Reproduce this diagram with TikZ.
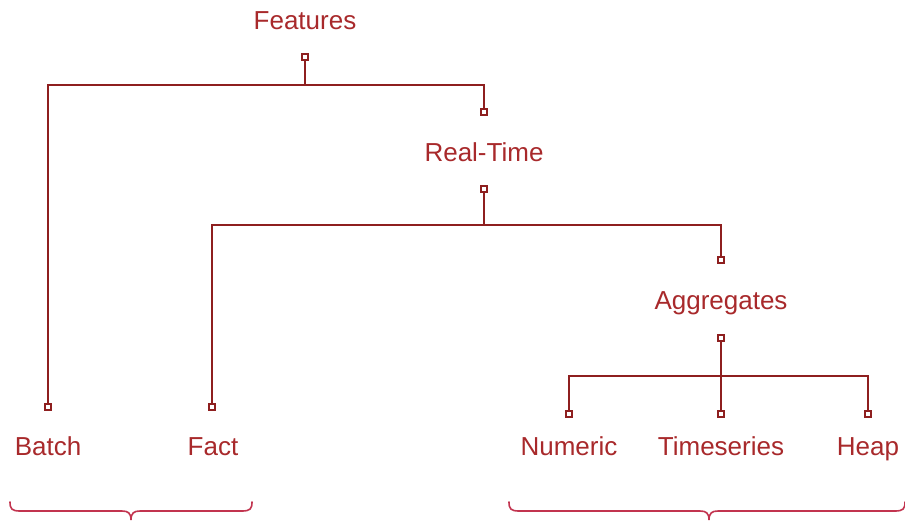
\documentclass[tikz,border=0pt]{standalone}
\usepackage{fontspec}
\setmainfont{Liberation Sans}
\definecolor{labelred}{HTML}{A8292B}
\definecolor{linered}{HTML}{8E1F1F}
\definecolor{bracered}{HTML}{C2344F}
\begin{document}
\begin{tikzpicture}[x=1pt,y=-1pt,
  lbl/.style={text=labelred,font=\fontsize{26}{30}\selectfont,inner sep=0pt,anchor=base},
  port/.style={draw=linered,fill=white,line width=2pt,minimum size=6pt,inner sep=0pt,rectangle},
  wire/.style={draw=linered,line width=2pt},
  brace/.style={draw=bracered,line width=1.6pt,line cap=round}]
\useasboundingbox (0,0) rectangle (905,520);

% labels (placed by baseline)
\node[lbl] (feat) at (305,29) {Features};
\node[lbl] (rt) at (484,161) {Real-Time};
\node[lbl] (agg) at (721,309) {Aggregates};
\node[lbl] (batch) at (48,455) {Batch};
\node[lbl] (fact) at (213,455) {Fact};
\node[lbl] (num) at (569,455) {Numeric};
\node[lbl] (ts) at (721,455) {Timeseries};
\node[lbl] (heap) at (868,455) {Heap};

% buses
\coordinate (bus1) at (305,85);
\coordinate (bus2) at (484,225);
\coordinate (bus3) at (721,376);

% ports
\node[port] (pfeat) at (305,57) {};
\node[port] (pbatch) at (48,407) {};
\node[port] (prt) at (484,112) {};
\node[port] (prtout) at (484,189) {};
\node[port] (pfact) at (212,407) {};
\node[port] (pagg) at (721,260) {};
\node[port] (paggout) at (721,338) {};
\node[port] (pnum) at (569,414) {};
\node[port] (pts) at (721,414) {};
\node[port] (pheap) at (868,414) {};

% wires between ports
\draw[wire] (pfeat.south) -- (bus1) -| (pbatch.north);
\draw[wire] (bus1) -| (prt.north);
\draw[wire] (prtout.south) -- (bus2) -| (pfact.north);
\draw[wire] (bus2) -| (pagg.north);
\draw[wire] (paggout.south) -- (bus3) -| (pnum.north);
\draw[wire] (bus3) -| (pheap.north);
\draw[wire] (bus3) -- (pts.north);

% braces
\draw[brace] (10,502) .. controls (10,509) and (12,511) .. (20,511) -- (122,511)
  .. controls (128,511) and (131,513) .. (131,520)
  .. controls (131,513) and (134,511) .. (140,511) -- (242,511)
  .. controls (250,511) and (252,509) .. (252,502);
\draw[brace] (509,502) .. controls (509,509) and (511,511) .. (519,511) -- (700,511)
  .. controls (706,511) and (709,513) .. (709,520)
  .. controls (709,513) and (712,511) .. (718,511) -- (895,511)
  .. controls (903,511) and (905,509) .. (905,502);
\end{tikzpicture}
\end{document}
